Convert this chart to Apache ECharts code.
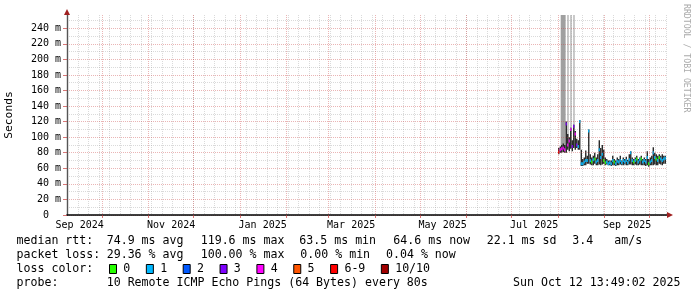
<!DOCTYPE html>
<html>
<head>
<meta charset="utf-8">
<script src="https://cdn.jsdelivr.net/npm/echarts@6/dist/echarts.min.js"></script>
<style>
  html, body { margin: 0; padding: 0; background: #fff; }
  #chart { width: 697px; height: 297px; }
</style>
</head>
<body>
<div id="chart"></div>
<script>
// time range of the graph (400 days ending at the render time)
const DAY = 86400000;
const axisStart = Date.UTC(2024, 8, 7, 13, 49, 2);
const axisEnd = Date.UTC(2025, 9, 12, 13, 49, 2);
const firstDay = Date.UTC(2025, 7, 1); // first day with data

// x labels, rrdtool puts them in the middle of the month
const monthLabels = ['Sep 2024', 'Nov 2024', 'Jan 2025', 'Mar 2025', 'May 2025', 'Jul 2025', 'Sep 2025'];
const monthLabelTimes = [
  Date.UTC(2024, 8, 16), Date.UTC(2024, 10, 16), Date.UTC(2025, 0, 16),
  Date.UTC(2025, 2, 16), Date.UTC(2025, 4, 16), Date.UTC(2025, 6, 16), Date.UTC(2025, 8, 16)
];

// y labels
const yTicks = [0, 20, 40, 60, 80, 100, 120, 140, 160, 180, 200, 220, 240];
const yTickLabels = ['0  ', '20 m', '40 m', '60 m', '80 m', '100 m', '120 m', '140 m', '160 m', '180 m', '200 m', '220 m', '240 m'];

// median rtt per day from Aug 1 2025 (ms): low / high of the day and the median marker
const medLo = [
  78, 80, 80, 81, 80, 80, 84, 82, 85, 82,
  86, 84, 86, 84, 84, 63, 63, 64, 64, 66,
  66, 65, 64, 64, 66, 64, 64, 65, 64, 65,
  66, 64, 65, 64, 64, 63, 64, 64, 63, 64,
  64, 65, 64, 64, 65, 64, 64, 65, 65, 64,
  64, 65, 64, 64, 65, 64, 64, 64, 63, 64,
  62, 64, 64, 64, 65, 64, 64, 66, 65, 64, 66, 66
];
const medHi = [
  86, 88, 90, 92, 90, 120, 104, 100, 112, 96,
  116, 108, 98, 96, 122, 84, 72, 74, 83, 76,
  110, 78, 74, 76, 80, 74, 78, 96, 86, 90,
  84, 74, 72, 70, 70, 70, 76, 72, 70, 74,
  72, 76, 70, 74, 72, 75, 71, 78, 82, 74,
  72, 74, 76, 72, 74, 76, 72, 74, 72, 82,
  72, 74, 76, 87, 80, 78, 76, 78, 76, 78, 76, 76
];
const medVal = [
  81, 84, 85, 86, 84, 117, 90, 95, 110, 88,
  114, 104, 90, 88, 120, 66, 66, 68, 70, 70,
  108, 70, 68, 71, 72, 68, 70, 84, 74, 78,
  70, 67, 68, 66, 67, 66, 70, 68, 66, 69,
  68, 70, 67, 70, 68, 70, 67, 71, 80, 70,
  68, 70, 72, 68, 71, 72, 68, 70, 68, 74,
  66, 68, 70, 80, 74, 72, 70, 74, 72, 70, 72, 73
];
// loss class per day (index into lossColors)
const lossIdx = [
  6, 4, 4, 4, 4, 3, 4, 4, 4, 3,
  3, 4, 3, 1, 1, 1, 1, 1, 1, 1,
  1, 1, 0, 1, 0, 1, 1, 1, 1, 1,
  0, 0, 1, 1, 1, 1, 1, 0, 1, 1,
  1, 1, 1, 1, 1, 1, 1, 1, 1, 1,
  0, 1, 0, 1, 1, 0, 1, 1, 1, 1,
  0, 1, 1, 1, 1, 0, 1, 0, 1, 1, 1, 1
];

// smoke (ping spread) where it runs off the top; start/end in days after Aug 1
const smokeStart = [1.7, 6.2, 8.2, 10.2];
const smokeEnd = [5.0, 6.95, 8.95, 10.95];
const smokeLow = [84, 86, 86, 88];
const smokeHigh = [300, 300, 300, 300];

const lossColors = ['#26ff00', '#00b8ff', '#0059ff', '#7e00ff', '#ff00ff', '#ff5500', '#ff0000', '#a10000'];
const lossLabels = ['0', '1', '2', '3', '4', '5', '6-9', '10/10'];

const rttStats = ['74.9 ms avg', '119.6 ms max', '63.5 ms min', '64.6 ms now', '22.1 ms sd', '3.4', 'am/s'];
const lossStats = ['29.36 % avg', '100.00 % max', '0.00 % min', '0.04 % now'];
const probeText = '10 Remote ICMP Echo Pings (64 Bytes) every 80s';
const stampText = 'Sun Oct 12 13:49:02 2025';

// grid lines
const monthStarts = [];
for (let y = 2024, m = 9; y * 12 + m <= 2025 * 12 + 9; m++) {
  if (m > 11) { m = 0; y++; }
  monthStarts.push(Date.UTC(y, m, 1));
}
const weekStarts = [];
for (let t = Date.UTC(2024, 8, 8); t < axisEnd; t += 7 * DAY) weekStarts.push(t);
const yMinor = [];
for (let v = 10; v < 257; v += 20) yMinor.push(v);

const MONO = '"DejaVu Sans Mono", monospace';
const labelOf = {};
monthLabelTimes.forEach((t, i) => { labelOf[t] = monthLabels[i]; });
const yLabelOf = {};
yTicks.forEach((v, i) => { yLabelOf[v] = yTickLabels[i]; });

const barData = medLo.map((lo, i) => [firstDay + i * DAY, lo, medHi[i], firstDay + (i + 0.85) * DAY]);
const markData = medVal.map((v, i) => [firstDay + i * DAY, v, lossIdx[i]]);
const smokeData = smokeStart.map((d, i) => [firstDay + d * DAY, smokeLow[i], smokeHigh[i], firstDay + smokeEnd[i] * DAY]);

// rect from [start, low] to [end, high]
function rangeItem(color) {
  return function (params, api) {
    const a = api.coord([api.value(0), api.value(2)]);
    const b = api.coord([api.value(3), api.value(1)]);
    return {
      type: 'rect',
      shape: { x: a[0], y: a[1], width: b[0] - a[0], height: b[1] - a[1] },
      style: { fill: color }
    };
  };
}

function markItem(params, api) {
  const t = api.value(0);
  const a = api.coord([t, api.value(1)]);
  const b = api.coord([t + DAY, api.value(1)]);
  return {
    type: 'rect',
    shape: { x: a[0], y: a[1] - 1.5, width: (b[0] - a[0]) * 0.8, height: 3 },
    style: { fill: lossColors[api.value(2)] }
  };
}

// legend graphics
const legendFont = '11.6px ' + MONO;
const rowY = [241.3, 255.3, 269.3, 283.3];
function txt(x, y, text, align) {
  return { type: 'text', x: x, y: y, silent: true,
    style: { text: text, font: legendFont, fill: '#000', textAlign: align || 'left', textVerticalAlign: 'middle' } };
}
const graphics = [];
graphics.push(txt(16.5, rowY[0], 'median rtt:'));
[106.7, 200.7, 299.3, 393.3, 486.7, 572.3, 614.3].forEach((x, i) => graphics.push(txt(x, rowY[0], rttStats[i])));
graphics.push(txt(16.5, rowY[1], 'packet loss:'));
[106.7, 200.7, 300.3, 386].forEach((x, i) => graphics.push(txt(x, rowY[1], lossStats[i])));
graphics.push(txt(16.5, rowY[2], 'loss color:'));
let lx = 109;
lossLabels.forEach((lab, i) => {
  graphics.push({ type: 'rect', silent: true,
    shape: { x: lx + 0.5, y: rowY[2] - 4.8, width: 7, height: 9 },
    style: { fill: lossColors[i], stroke: '#000', lineWidth: 1 } });
  graphics.push(txt(lx + 14.3, rowY[2], lab));
  lx += 29.9 + 6.95 * lab.length;
});
graphics.push(txt(16.5, rowY[3], 'probe:'));
graphics.push(txt(106.7, rowY[3], probeText));
graphics.push(txt(680.5, rowY[3], stampText, 'right'));
graphics.push({ type: 'text', x: 686, y: 4, rotation: -Math.PI / 2, silent: true,
  style: { text: 'RRDTOOL / TOBI OETIKER', font: '8.2px ' + MONO, fill: '#aaaaaa', textAlign: 'left', textVerticalAlign: 'middle' } });

const majorGrid = { color: 'rgba(200, 60, 60, 0.38)', width: 1, type: [1, 1] };
const minorGrid = { color: 'rgba(140, 140, 140, 0.32)', width: 1, type: [1, 1] };
const arrowColor = '#a02020';

const chart = echarts.init(document.getElementById('chart'), null, { renderer: 'canvas' });
chart.setOption({
  animation: false,
  backgroundColor: '#fff',
  grid: { left: 67, right: 30, top: 15, bottom: 82, containLabel: false, outerBoundsMode: 'none' },
  xAxis: [
    {
      type: 'value', position: 'bottom', min: axisStart, max: axisEnd, z: 5,
      axisLine: { show: true, onZero: false, lineStyle: { color: '#000', width: 1.6 } },
      axisTick: { show: true, customValues: monthStarts, length: 3, lineStyle: { color: 'rgba(200, 60, 60, 0.7)' } },
      axisLabel: { customValues: monthLabelTimes, formatter: v => labelOf[v] || '', fontFamily: MONO, fontSize: 10, color: '#000', margin: 5 },
      splitLine: { show: true, lineStyle: majorGrid }
    },
    {
      type: 'value', position: 'bottom', min: axisStart, max: axisEnd, z: 1,
      axisLine: { show: false }, axisLabel: { show: false },
      axisTick: { show: false, customValues: weekStarts },
      splitLine: { show: true, lineStyle: minorGrid }
    },
    {
      type: 'value', position: 'bottom', min: axisStart, max: axisEnd, z: 6,
      axisLabel: { show: false }, axisTick: { show: false }, splitLine: { show: false },
      axisLine: { show: true, onZero: false, symbol: ['none', 'triangle'], symbolSize: [6, 6], symbolOffset: [0, 3],
        lineStyle: { color: arrowColor, width: 0 } }
    }
  ],
  yAxis: [
    {
      type: 'value', position: 'left', min: 0, max: 257, z: 5,
      name: 'Seconds', nameLocation: 'middle', nameGap: 52,
      nameTextStyle: { fontFamily: MONO, fontSize: 11.3, color: '#000' },
      axisLine: { show: true, lineStyle: { color: '#555', width: 1.4 } },
      axisTick: { show: true, customValues: yTicks, length: 4, lineStyle: { color: 'rgba(200, 60, 60, 0.7)' } },
      axisLabel: { customValues: yTicks, formatter: v => yLabelOf[v] || '', fontFamily: MONO, fontSize: 10, color: '#000', margin: 6 },
      splitLine: { show: true, lineStyle: majorGrid }
    },
    {
      type: 'value', position: 'left', min: 0, max: 257, z: 1,
      axisLine: { show: false }, axisLabel: { show: false },
      axisTick: { show: false, customValues: yMinor },
      splitLine: { show: true, lineStyle: minorGrid }
    },
    {
      type: 'value', position: 'left', min: 0, max: 257, z: 6,
      axisLabel: { show: false }, axisTick: { show: false }, splitLine: { show: false },
      axisLine: { show: true, onZero: false, symbol: ['none', 'triangle'], symbolSize: [6, 6], symbolOffset: [0, 3],
        lineStyle: { color: arrowColor, width: 0 } }
    }
  ],
  series: [
    { type: 'custom', name: 'smoke', data: smokeData, renderItem: rangeItem('#a0a0a0'),
      encode: { x: [0, 3], y: [1, 2] }, clip: true, silent: true, z: 2 },
    { type: 'custom', name: 'median range', data: barData, renderItem: rangeItem('#151515'),
      encode: { x: [0, 3], y: [1, 2] }, clip: true, silent: true, z: 3 },
    { type: 'custom', name: 'loss', data: markData, renderItem: markItem,
      encode: { x: 0, y: 1 }, clip: true, silent: true, z: 4 }
  ],
  graphic: graphics
});
</script>
</body>
</html>
